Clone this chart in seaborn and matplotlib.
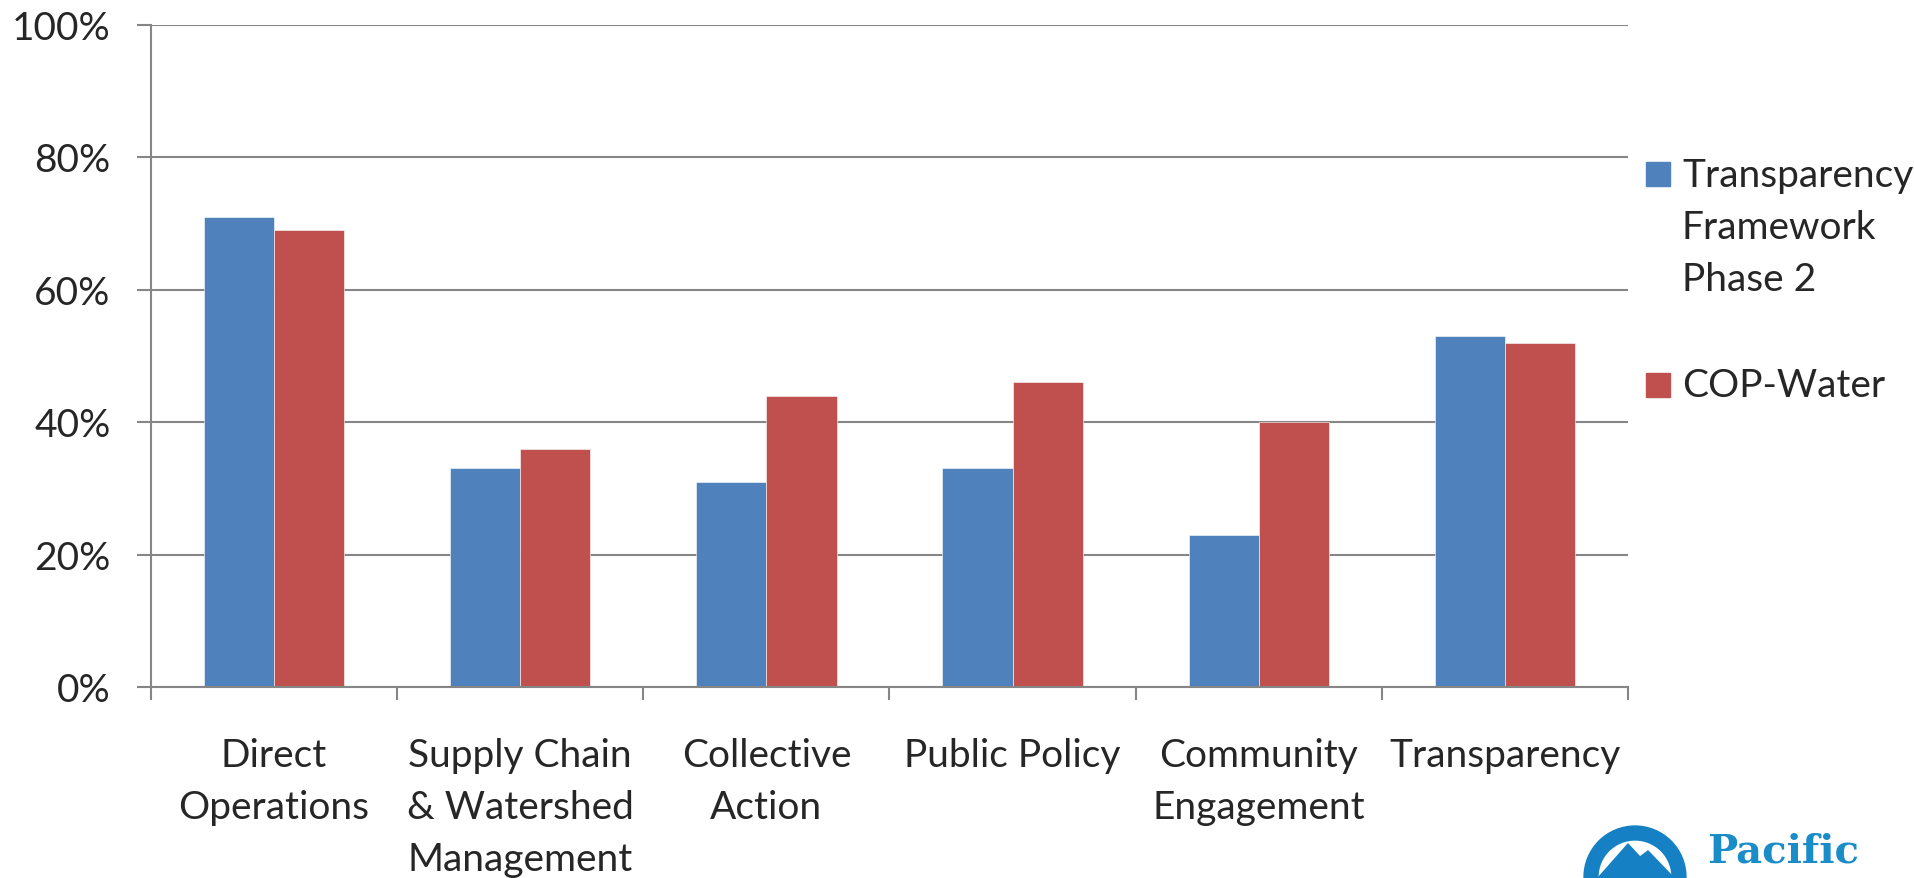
import pandas as pd
import seaborn as sns
import matplotlib.pyplot as plt
from matplotlib.patches import Rectangle, Circle, Polygon
from matplotlib.transforms import IdentityTransform
from matplotlib.ticker import PercentFormatter, FixedLocator

CATEGORIES = ["Direct\nOperations", "Supply Chain\n& Watershed\nManagement",
              "Collective\nAction", "Public Policy", "Community\nEngagement",
              "Transparency"]
SERIES = ["Transparency\nFramework\nPhase 2", "COP-Water"]
PHASE2 = [71, 33, 31, 33, 23, 53]
COP_WATER = [69, 36, 44, 46, 40, 52]
Y_TICKS = [0, 20, 40, 60, 80, 100]

COLORS = ["#4F81BD", "#C0504D"]
GRID = "#868686"
W, H, DPI = 1915, 879, 100
FONT = 28


def build_frame():
    rows = []
    for name, vals in zip(SERIES, [PHASE2, COP_WATER]):
        for cat, v in zip(CATEGORIES, vals):
            rows.append({"category": cat, "series": name, "value": v})
    return pd.DataFrame(rows)


def main():
    df = build_frame()
    sns.set_theme(style="white")
    plt.rcParams["font.family"] = ["Lato", "DejaVu Sans"]

    fig = plt.figure(figsize=(W / DPI, H / DPI), dpi=DPI)
    ax = fig.add_axes([151 / W, 1 - 688 / H, (1628 - 151) / W, (688 - 25.5) / H])

    sns.barplot(data=df, x="category", y="value", hue="series",
                palette=COLORS, saturation=1, width=0.57, ax=ax,
                edgecolor="white", linewidth=0.4, legend=False)

    ax.set_ylim(0, 100)
    ax.set_xlim(-0.5, len(CATEGORIES) - 0.5)
    ax.set_xlabel("")
    ax.set_ylabel("")
    ax.yaxis.set_major_locator(FixedLocator(Y_TICKS))
    ax.yaxis.set_major_formatter(PercentFormatter(decimals=0))
    ax.grid(axis="y", color=GRID, linewidth=1.5)
    ax.set_axisbelow(True)

    for side in ["top", "right"]:
        ax.spines[side].set_visible(False)
    for side in ["left", "bottom"]:
        ax.spines[side].set_color(GRID)
        ax.spines[side].set_linewidth(1.5)

    # separators between categories on x, labels without marks
    ax.xaxis.set_minor_locator(FixedLocator([i - 0.5 for i in range(len(CATEGORIES) + 1)]))
    ax.tick_params(axis="x", which="major", length=0, pad=36, labelsize=FONT)
    ax.tick_params(axis="x", which="minor", length=9, width=1.5, color=GRID, direction="out", bottom=True)
    ax.tick_params(axis="y", length=10, width=1.5, color=GRID, direction="out", pad=19,
                   labelsize=FONT, left=True)
    for lab in ax.get_xticklabels():
        lab.set_linespacing(1.56)

    # legend, drawn in pixel space
    px = IdentityTransform()
    fig.add_artist(Rectangle((1646, H - 187), 24, 24, color=COLORS[0], transform=px))
    fig.add_artist(Rectangle((1646, H - 398), 24, 24, color=COLORS[1], transform=px))
    fig.text(1682 / W, 1 - 158 / H, SERIES[0], fontsize=FONT, va="top", ha="left",
             linespacing=1.56)
    fig.text(1682 / W, 1 - 368 / H, SERIES[1], fontsize=FONT, va="top", ha="left")

    # logo in the corner
    logo = "#1580C4"
    fig.add_artist(Circle((1635, H - 878), 44, fill=False, edgecolor=logo, linewidth=11,
                          transform=px))
    fig.add_artist(Polygon([(1598, 0), (1628, H - 845), (1640, H - 858), (1648, H - 852),
                            (1674, 0)], closed=True, color=logo, transform=px))
    fig.text(1707 / W, 1 - 863 / H, "Pacific", fontsize=29, fontweight="bold",
             family="DejaVu Serif", color="#1A8CC8", va="baseline", ha="left")

    fig.savefig("out.png", dpi=DPI)


if __name__ == "__main__":
    main()
